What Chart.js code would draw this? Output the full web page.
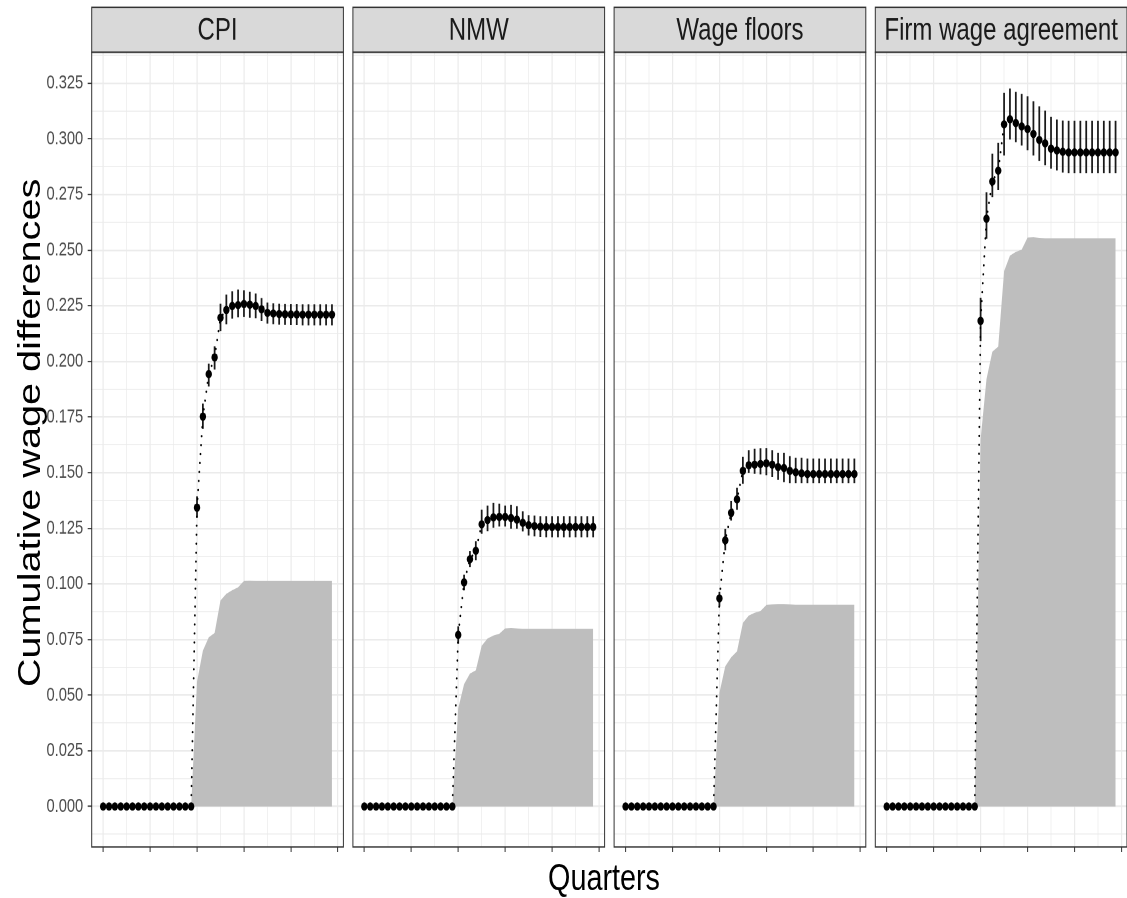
<!DOCTYPE html>
<html><head><meta charset="utf-8">
<script src="https://cdn.jsdelivr.net/npm/chart.js@4.4.1/dist/chart.umd.min.js"></script>
<style>
html,body{margin:0;padding:0;background:#fff;overflow:hidden;width:1127px;height:898px;}
#wrap{position:absolute;left:0;top:0;width:1127px;height:691px;transform:scaleY(1.3);transform-origin:0 0;overflow:hidden;}
#wrap canvas{position:absolute;top:0;}
.lab{position:absolute;white-space:nowrap;font-family:'Liberation Sans',Arial,sans-serif;color:#000;line-height:1;}
#ytitle{left:29px;top:333px;font-size:30.5px;transform:translate(-50%,-50%) rotate(-90deg);}
#xtitle{left:604px;top:661px;font-size:28.8px;transform:translateX(-50%);}
</style></head><body>
<div id="wrap">
  <div class="lab" id="ytitle">Cumulative wage differences</div>
  <div class="lab" id="xtitle">Quarters</div>
</div>
<script>
// ---------- data ----------
const panels = ['CPI', 'NMW', 'Wage floors', 'Firm wage agreement'];
const quarters = [0,1,2,3,4,5,6,7,8,9,10,11,12,13,14,15,16,17,18,19,20,21,22,23,24,25,26,27,28,29,30,31,32,33,34,35,36,37,38,39];

const cpiEstimate = [0,0,0,0,0,0,0,0,0,0,0,0,0,0,0,0,0.1343,0.1752,0.1943,0.2018,0.2196,0.2231,0.2249,0.2253,0.2258,0.2255,0.2249,0.2234,0.2218,0.2215,0.2213,0.2212,0.2211,0.2211,0.2210,0.2210,0.2210,0.2210,0.2210,0.2210];
const cpiLower    = [0,0,0,0,0,0,0,0,0,0,0,0,0,0,0,0,0.1299,0.1699,0.1889,0.1965,0.2138,0.2168,0.2194,0.2200,0.2201,0.2198,0.2196,0.2183,0.2172,0.2169,0.2167,0.2166,0.2165,0.2165,0.2164,0.2164,0.2164,0.2164,0.2164,0.2164];
const cpiUpper    = [0,0,0,0,0,0,0,0,0,0,0,0,0,0,0,0,0.1392,0.1809,0.1988,0.2066,0.2257,0.2298,0.2313,0.2321,0.2318,0.2311,0.2303,0.2283,0.2262,0.2259,0.2257,0.2256,0.2255,0.2255,0.2254,0.2254,0.2254,0.2254,0.2254,0.2254];
const cpiShaded   = [0,0,0,0,0,0,0,0,0,0,0,0,0,0,0,0,0.056,0.070,0.076,0.078,0.0926,0.0956,0.0972,0.0985,0.1013,0.1014,0.1013,0.1013,0.1013,0.1013,0.1013,0.1013,0.1013,0.1013,0.1013,0.1013,0.1013,0.1013,0.1013,0.1013];

const nmwEstimate = [0,0,0,0,0,0,0,0,0,0,0,0,0,0,0,0,0.0771,0.1007,0.1111,0.1149,0.1268,0.1287,0.1299,0.1301,0.1301,0.1296,0.1289,0.1275,0.1264,0.1260,0.1257,0.1256,0.1256,0.1256,0.1256,0.1256,0.1256,0.1256,0.1256,0.1256];
const nmwLower    = [0,0,0,0,0,0,0,0,0,0,0,0,0,0,0,0,0.0733,0.0973,0.1078,0.1108,0.1228,0.1239,0.1255,0.1260,0.1260,0.1250,0.1250,0.1238,0.1220,0.1215,0.1213,0.1212,0.1212,0.1212,0.1212,0.1212,0.1212,0.1212,0.1212,0.1212];
const nmwUpper    = [0,0,0,0,0,0,0,0,0,0,0,0,0,0,0,0,0.0808,0.1040,0.1145,0.1190,0.1332,0.1350,0.1362,0.1359,0.1350,0.1353,0.1347,0.1325,0.1307,0.1305,0.1302,0.1302,0.1302,0.1302,0.1302,0.1302,0.1302,0.1302,0.1302,0.1302];
const nmwShaded   = [0,0,0,0,0,0,0,0,0,0,0,0,0,0,0,0,0.044,0.055,0.0597,0.0612,0.0722,0.0755,0.0768,0.0776,0.0800,0.0802,0.0800,0.0798,0.0798,0.0798,0.0798,0.0798,0.0798,0.0798,0.0798,0.0798,0.0798,0.0798,0.0798,0.0798];

const floorEstimate = [0,0,0,0,0,0,0,0,0,0,0,0,0,0,0,0,0.0935,0.1196,0.1319,0.1380,0.1508,0.1533,0.1536,0.1539,0.1542,0.1536,0.1525,0.1521,0.1508,0.1502,0.1497,0.1494,0.1494,0.1494,0.1494,0.1494,0.1494,0.1494,0.1494,0.1494];
const floorLower    = [0,0,0,0,0,0,0,0,0,0,0,0,0,0,0,0,0.0900,0.1153,0.1287,0.1335,0.1452,0.1500,0.1497,0.1494,0.1490,0.1482,0.1470,0.1459,0.1455,0.1455,0.1455,0.1455,0.1455,0.1455,0.1455,0.1455,0.1455,0.1455,0.1455,0.1455];
const floorUpper    = [0,0,0,0,0,0,0,0,0,0,0,0,0,0,0,0,0.0962,0.1245,0.1370,0.1430,0.1569,0.1599,0.1605,0.1608,0.1609,0.1599,0.1587,0.1587,0.1572,0.1565,0.1565,0.1561,0.1561,0.1561,0.1561,0.1561,0.1561,0.1561,0.1561,0.1561];
const floorShaded   = [0,0,0,0,0,0,0,0,0,0,0,0,0,0,0,0,0.051,0.063,0.067,0.0697,0.0825,0.0858,0.0870,0.0878,0.0905,0.0908,0.0910,0.0910,0.0908,0.0906,0.0906,0.0906,0.0906,0.0906,0.0906,0.0906,0.0906,0.0906,0.0906,0.0906];

const firmEstimate = [0,0,0,0,0,0,0,0,0,0,0,0,0,0,0,0,0.2182,0.2641,0.2808,0.2857,0.3065,0.3088,0.3071,0.3056,0.3044,0.3022,0.2995,0.2980,0.2956,0.2948,0.2942,0.2939,0.2939,0.2939,0.2939,0.2939,0.2939,0.2939,0.2939,0.2939];
const firmLower    = [0,0,0,0,0,0,0,0,0,0,0,0,0,0,0,0,0.2092,0.2553,0.2740,0.2773,0.2927,0.2999,0.2987,0.2972,0.2950,0.2927,0.2902,0.2883,0.2868,0.2860,0.2850,0.2848,0.2848,0.2848,0.2848,0.2848,0.2848,0.2848,0.2848,0.2848];
const firmUpper    = [0,0,0,0,0,0,0,0,0,0,0,0,0,0,0,0,0.2284,0.2758,0.2931,0.2980,0.3205,0.3224,0.3209,0.3200,0.3189,0.3167,0.3144,0.3125,0.3097,0.3085,0.3080,0.3079,0.3079,0.3079,0.3079,0.3079,0.3079,0.3079,0.3079,0.3079];
const firmShaded   = [0,0,0,0,0,0,0,0,0,0,0,0,0,0,0,0,0.165,0.192,0.2044,0.2066,0.2405,0.2475,0.2492,0.2502,0.2556,0.2558,0.2555,0.2553,0.2553,0.2553,0.2553,0.2553,0.2553,0.2553,0.2553,0.2553,0.2553,0.2553,0.2553,0.2553];

const xMajorTicks = [0, 8, 16, 24, 32, 40];
const xMinorTicks = [4, 12, 20, 28, 36];
const yTickLabels = ['0.000','0.025','0.050','0.075','0.100','0.125','0.150','0.175','0.200','0.225','0.250','0.275','0.300','0.325'];
const yMinorTicks = [-0.0125,0.0125,0.0375,0.0625,0.0875,0.1125,0.1375,0.1625,0.1875,0.2125,0.2375,0.2625,0.2875,0.3125,0.3375];

// ---------- layout (design units; whole figure is stretched vertically by 1.3) ----------
const H = 691;
const panelLeft = [91.7, 352.9, 614.1, 875.3];
const panelW = 251.7;
const stripTop = 5.6, plotTop = 40.2, plotBottom = 651.5;
const xMin = -1.95, xMax = 40.95, yMin = -0.0182, yMax = 0.3389;

Chart.defaults.font.family = "'Liberation Sans', Arial, sans-serif";

const yMajorVals = yTickLabels.map(parseFloat);
const yBreaks = yMajorVals.concat(yMinorTicks).sort((a, b) => a - b);
const xBreaks = xMajorTicks.concat(xMinorTicks).sort((a, b) => a - b);
const isMajorY = v => yMajorVals.some(m => Math.abs(m - v) < 1e-7);
const isMajorX = v => xMajorTicks.some(m => Math.abs(m - v) < 1e-7);

const facetPlugin = {
  id: 'facet',
  afterDraw(chart, args, opts) {
    const {ctx, chartArea: a} = chart;
    ctx.save();
    ctx.fillStyle = '#D9D9D9';
    ctx.fillRect(a.left, stripTop, a.right - a.left, a.top - stripTop);
    ctx.strokeStyle = '#333333';
    ctx.lineWidth = 1;
    ctx.strokeRect(a.left, stripTop, a.right - a.left, a.top - stripTop);
    ctx.strokeRect(a.left, a.top, a.right - a.left, a.bottom - a.top);
    ctx.fillStyle = '#1A1A1A';
    ctx.font = "24px 'Liberation Sans', Arial, sans-serif";
    ctx.textAlign = 'center';
    ctx.textBaseline = 'middle';
    ctx.fillText(opts.label, (a.left + a.right) / 2, (stripTop + a.top) / 2 + 1);
    ctx.restore();
  }
};

const wrap = document.getElementById('wrap');
const series = [
  [cpiEstimate, cpiLower, cpiUpper, cpiShaded],
  [nmwEstimate, nmwLower, nmwUpper, nmwShaded],
  [floorEstimate, floorLower, floorUpper, floorShaded],
  [firmEstimate, firmLower, firmUpper, firmShaded]
];

panels.forEach((name, i) => {
  const [est, lo, hi, shade] = series[i];
  const canvas = document.createElement('canvas');
  const cl = i === 0 ? 0 : Math.floor(panelLeft[i]) - 3;
  const right = panelLeft[i] + panelW;
  const cw = Math.ceil(right) + 3 - cl;
  canvas.width = cw;
  canvas.height = H;
  canvas.style.left = cl + 'px';
  wrap.appendChild(canvas);
  const padL = i === 0 ? 0 : panelLeft[i] - cl;
  const padR = cw - (right - cl);
  const yw = i === 0 ? panelLeft[0] : 0;
  const xy = ys => quarters.map((q, k) => ({x: q, y: ys[k]}));

  new Chart(canvas, {
    type: 'scatter',
    plugins: [facetPlugin],
    data: {
      datasets: [
        {type: 'line', data: xy(shade), fill: 'origin', backgroundColor: '#BEBEBE', borderWidth: 0, borderColor: 'rgba(0,0,0,0)', pointRadius: 0, tension: 0, order: 4},
        {type: 'bar', data: quarters.map((q, k) => ({x: q, y: [lo[k], hi[k]]})), backgroundColor: '#1A1A1A', borderWidth: 0, barThickness: 1.1, grouped: false, order: 3},
        {type: 'line', data: xy(est), borderColor: '#000', borderWidth: 1.8, borderDash: [0.01, 6.9], borderCapStyle: 'round', pointRadius: 0, fill: false, tension: 0, order: 2},
        {type: 'scatter', data: xy(est), pointRadius: 3.2, pointBackgroundColor: '#000', backgroundColor: '#000', borderWidth: 0, order: 1}
      ]
    },
    options: {
      responsive: false, animation: false, devicePixelRatio: 2, events: [],
      layout: {autoPadding: false, padding: {left: padL, right: padR, top: plotTop, bottom: 0}},
      plugins: {legend: {display: false}, tooltip: {enabled: false}, title: {display: false}, facet: {label: name}},
      scales: {
        x: {
          type: 'linear', min: xMin, max: xMax, offset: false,
          afterBuildTicks: s => { s.ticks = xBreaks.map(v => ({value: v})); },
          afterFit: s => { s.height = H - plotBottom; },
          ticks: {autoSkip: false, callback: () => '', padding: 0},
          grid: {offset: false, color: '#EBEBEB', lineWidth: c => (c.tick && isMajorX(c.tick.value)) ? 1.2 : 0.7,
                 drawTicks: true, tickLength: 4, tickWidth: 1,
                 tickColor: c => (c.tick && isMajorX(c.tick.value)) ? '#333333' : 'rgba(0,0,0,0)'},
          border: {display: false}
        },
        y: {
          type: 'linear', min: yMin, max: yMax,
          afterBuildTicks: s => { s.ticks = yBreaks.map(v => ({value: v})); },
          afterFit: s => { s.width = yw; },
          ticks: {display: i === 0, autoSkip: false, color: '#4D4D4D', font: {size: 14.7}, padding: 4.5,
                  callback: v => { const k = yMajorVals.findIndex(m => Math.abs(m - v) < 1e-7); return k >= 0 ? yTickLabels[k] : ''; }},
          grid: {color: '#EBEBEB', lineWidth: c => (c.tick && isMajorY(c.tick.value)) ? 1.2 : 0.7,
                 drawTicks: i === 0, tickLength: 4, tickWidth: 1,
                 tickColor: c => (c.tick && isMajorY(c.tick.value)) ? '#333333' : 'rgba(0,0,0,0)'},
          border: {display: false}
        }
      }
    }
  });
});
</script>
</body></html>
